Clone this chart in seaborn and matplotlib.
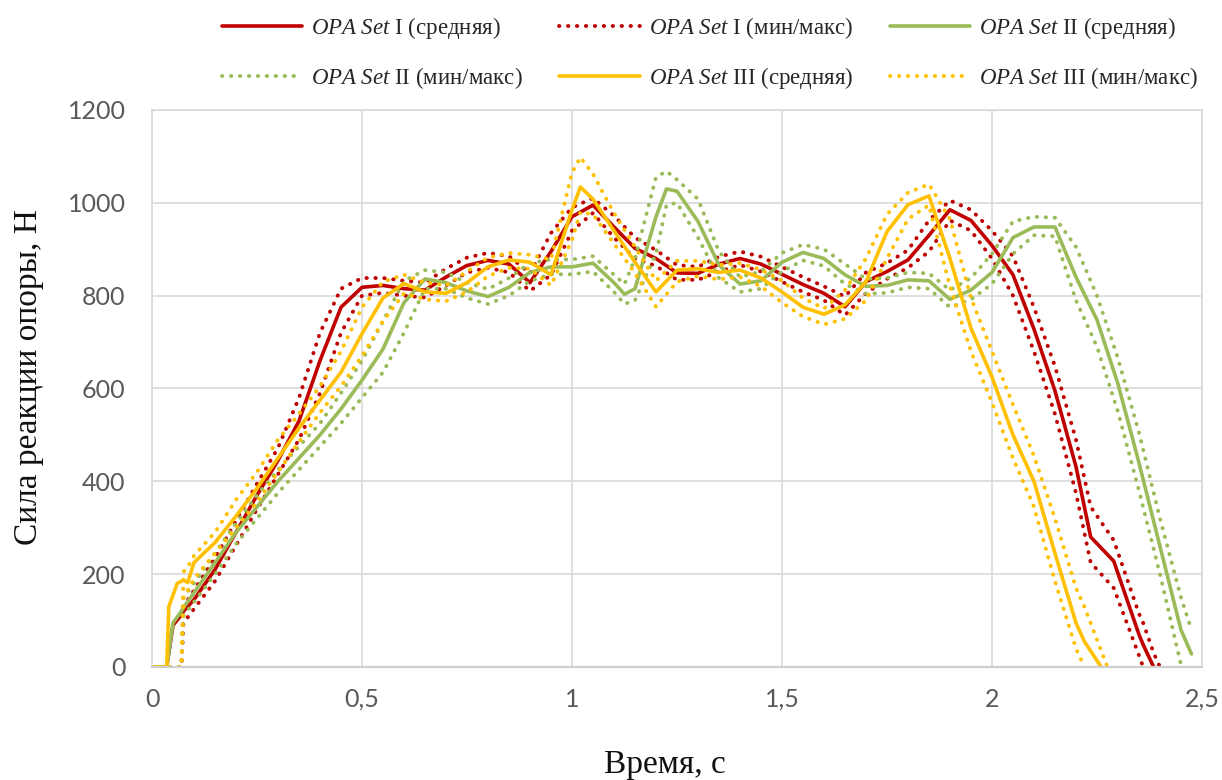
import numpy as np
import matplotlib
matplotlib.use("Agg")
import matplotlib.pyplot as plt
from matplotlib.lines import Line2D
import seaborn as sns

nan = np.nan

# ---- OPA Set I (red) ----
t1 = [0, 0.035, 0.05, 0.07, 0.075,
      0.1, 0.15, 0.2, 0.25, 0.3, 0.35, 0.4, 0.45, 0.5, 0.55,
      0.6, 0.65, 0.7, 0.75, 0.8, 0.85, 0.9, 0.95, 1.0, 1.05,
      1.1, 1.15, 1.2, 1.25, 1.3, 1.35, 1.4, 1.45, 1.5, 1.55,
      1.6, 1.65, 1.7, 1.75, 1.8, 1.85, 1.9, 1.95, 2.0, 2.05,
      2.1, 2.15, 2.2, 2.235, 2.29, 2.35, 2.36, 2.385, 2.4]
set1_mean = [0, 0, 90, 112, 120,
             145, 210, 290, 370, 445, 530, 660, 775, 818, 822,
             815, 812, 840, 865, 876, 868, 828, 895, 970, 995,
             948, 902, 880, 849, 848, 868, 880, 868, 846, 824,
             805, 776, 830, 852, 877, 930, 985, 962, 908, 845,
             728, 595, 432, 280, 228, 70, 48, 0, nan]
set1_max = [0, 0, 0, 0, 130,
            165, 235, 315, 395, 472, 580, 720, 815, 838, 838,
            832, 828, 858, 882, 892, 885, 848, 935, 990, 1010,
            972, 925, 898, 866, 862, 884, 895, 884, 862, 840,
            820, 798, 850, 870, 898, 962, 1005, 985, 940, 885,
            775, 648, 490, 345, 273, 115, 95, 30, 0]
set1_min = [0, 0, 0, 0, 95,
            125, 185, 262, 340, 415, 490, 590, 720, 800, 806,
            800, 796, 822, 850, 860, 850, 810, 845, 940, 978,
            925, 880, 864, 834, 834, 852, 866, 852, 830, 808,
            790, 758, 805, 836, 860, 895, 962, 940, 880, 800,
            680, 545, 375, 225, 170, 25, 0, nan, nan]

# ---- OPA Set II (green) ----
t2 = [0, 0.035, 0.05, 0.07, 0.075,
      0.1, 0.15, 0.2, 0.25, 0.3, 0.35, 0.4, 0.45, 0.5, 0.55,
      0.6, 0.65, 0.7, 0.75, 0.8, 0.85, 0.9, 0.95, 1.0, 1.05,
      1.1, 1.125, 1.15, 1.2, 1.225, 1.25, 1.3, 1.35, 1.4, 1.45, 1.5, 1.55,
      1.6, 1.65, 1.7, 1.75, 1.8, 1.85, 1.9, 1.95, 2.0, 2.05,
      2.1, 2.15, 2.2, 2.25, 2.3, 2.35, 2.4, 2.45, 2.475]
set2_mean = [0, 0, 95, 120, 128,
             160, 225, 290, 345, 400, 450, 500, 556, 618, 685,
             785, 836, 828, 810, 798, 818, 850, 862, 862, 870,
             828, 803, 815, 970, 1030, 1025, 960, 866, 825, 832, 872, 893,
             880, 845, 820, 822, 834, 832, 792, 812, 850, 925,
             948, 948, 840, 748, 610, 440, 260, 80, 28]
set2_max = [0, 0, 0, 0, 150,
            180, 245, 310, 370, 425, 475, 525, 590, 660, 745,
            832, 855, 850, 828, 814, 838, 870, 878, 878, 885,
            845, 825, 880, 1055, 1068, 1050, 1008, 895, 840, 852, 892, 910,
            900, 868, 836, 838, 850, 848, 812, 838, 890, 960,
            970, 968, 905, 800, 665, 505, 320, 150, 80]
set2_min = [0, 0, 0, 0, 110,
            140, 200, 265, 320, 375, 425, 475, 525, 580, 635,
            720, 815, 815, 795, 782, 800, 832, 846, 846, 852,
            808, 782, 790, 890, 995, 1000, 925, 838, 808, 815, 852, 876,
            864, 825, 804, 806, 818, 815, 775, 792, 825, 890,
            930, 928, 790, 690, 550, 380, 200, 5, nan]

# ---- OPA Set III (yellow) ----
t3 = [0, 0.035, 0.04, 0.06, 0.07, 0.075, 0.085,
      0.1, 0.15, 0.2, 0.25, 0.3, 0.35, 0.4, 0.45, 0.5, 0.55,
      0.6, 0.65, 0.7, 0.75, 0.8, 0.85, 0.9, 0.95, 1.0, 1.02,
      1.05, 1.1, 1.15, 1.2, 1.25, 1.3, 1.35, 1.4, 1.45, 1.5,
      1.55, 1.6, 1.65, 1.7, 1.75, 1.8, 1.85, 1.9, 1.95, 2.0,
      2.05, 2.1, 2.15, 2.2, 2.22, 2.26, 2.275]
set3_mean = [0, 0, 130, 180, 185, 187, 182,
             225, 268, 325, 385, 450, 515, 575, 635, 718, 795,
             826, 808, 805, 828, 862, 877, 872, 845, 985, 1034,
             1008, 940, 872, 808, 855, 858, 850, 855, 838, 808,
             775, 760, 780, 830, 938, 996, 1015, 880, 730, 625,
             500, 400, 245, 95, 55, 0, nan]
set3_max = [0, 0, 0, 0, 0, 205, 215,
            240, 290, 360, 420, 490, 545, 605, 680, 775, 830,
            845, 828, 822, 852, 882, 892, 888, 878, 1065, 1098,
            1062, 978, 905, 832, 875, 875, 866, 870, 856, 832,
            795, 772, 812, 880, 975, 1022, 1040, 965, 795, 680,
            565, 455, 320, 170, 130, 35, 0]
set3_min = [0, 0, 0, 0, 0, 150, 165,
            190, 245, 300, 355, 420, 485, 548, 605, 670, 745,
            805, 792, 788, 808, 842, 860, 858, 822, 920, 980,
            975, 912, 848, 776, 830, 842, 835, 840, 820, 785,
            755, 738, 750, 790, 880, 965, 995, 820, 680, 570,
            450, 345, 185, 40, 0, nan, nan]

set_names = ["I", "II", "III"]
colors = ["#C00000", "#9BBB59", "#FFC000"]
x_ticks = [0, 0.5, 1, 1.5, 2, 2.5]
x_tick_labels = ["0", "0,5", "1", "1,5", "2", "2,5"]
y_ticks = [0, 200, 400, 600, 800, 1000, 1200]

sns.set_style("white")
plt.rcParams["font.family"] = ["Lato", "DejaVu Sans"]
plt.rcParams["mathtext.fontset"] = "custom"
plt.rcParams["mathtext.it"] = "Liberation Serif:italic"
plt.rcParams["mathtext.rm"] = "Liberation Serif"

fig = plt.figure(figsize=(12.22, 7.8), dpi=100)
ax = fig.add_axes([0.1244, 0.1449, 0.8592, 0.7141])

dot_style = dict(lw=2.8, linestyle=(0, (0.1, 2.2)), dash_capstyle="round")
solid_style = dict(lw=2.6, solid_capstyle="round", solid_joinstyle="round")

series = [
    (t1, set1_mean, set1_min, set1_max),
    (t2, set2_mean, set2_min, set2_max),
    (t3, set3_mean, set3_min, set3_max),
]
for (t, mean, lo, hi), c in zip(series, colors):
    sns.lineplot(x=t, y=mean, ax=ax, color=c, estimator=None, sort=False, **solid_style)
    for band in (lo, hi):
        sns.lineplot(x=t, y=band, ax=ax, color=c, estimator=None, sort=False, **dot_style)

ax.set_xlim(0, 2.5)
ax.set_ylim(0, 1200)
ax.set_xticks(x_ticks)
ax.set_xticklabels(x_tick_labels)
ax.set_yticks(y_ticks)
ax.grid(True, color="#D9D9D9", lw=1.2)
ax.set_axisbelow(True)
for s in ax.spines.values():
    s.set_color("#D9D9D9")
    s.set_linewidth(1.2)
ax.spines["bottom"].set_color("#CFCFCF")
ax.spines["bottom"].set_linewidth(1.6)
ax.tick_params(axis="both", length=0, labelsize=18, labelcolor="#595959")
ax.tick_params(axis="y", pad=19)
ax.tick_params(axis="x", pad=15)
ax.set_xlabel("")
ax.set_ylabel("")

fig.text(0.0237, 0.5167, "Сила реакции опоры, Н", rotation=90, ha="center", va="center",
         family="Liberation Serif", size=24, color="#111111")
fig.text(0.544, 0.019, "Время, с", ha="center", va="center",
         family="Liberation Serif", size=24, color="#111111")

# legend: row-major order like the original, so reorder for column filling
handles, labels = [], []
for name, c in zip(set_names, colors):
    handles.append(Line2D([], [], color=c, **solid_style))
    labels.append(r"$\mathit{OPA\ Set}$ " + name + " (средняя)")
    handles.append(Line2D([], [], color=c, **dot_style))
    labels.append(r"$\mathit{OPA\ Set}$ " + name + " (мин/макс)")
order = [0, 3, 1, 4, 2, 5]
fig.legend([handles[i] for i in order], [labels[i] for i in order],
           loc="center", bbox_to_anchor=(0.581, 0.932), ncol=3, frameon=False,
           prop={"family": "Liberation Serif", "size": 16.5},
           handlelength=3.5, handletextpad=0.4, columnspacing=1.6, labelspacing=1.05)

fig.savefig("out.png", dpi=100)
